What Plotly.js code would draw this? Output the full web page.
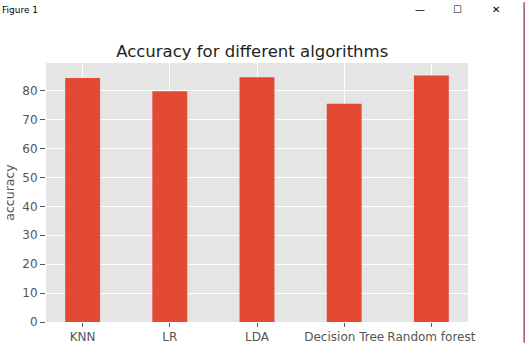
<!DOCTYPE html>
<html>
<head>
<meta charset="utf-8">
<script src="https://cdn.plot.ly/plotly-3.0.1.min.js"></script>
<style>
html,body{margin:0;padding:0;background:#fff;}
#chart{width:531px;height:358px;}
</style>
</head>
<body>
<div id="chart"></div>
<script>
const categories = ["KNN", "LR", "LDA", "Decision Tree", "Random forest"];
const accuracy = [84.4, 79.8, 84.7, 75.5, 85.3];
const yTicks = [0, 10, 20, 30, 40, 50, 60, 70, 80];

const xIdx = categories.map((c, i) => i);

const trace = {
  type: "bar",
  x: xIdx,
  y: accuracy,
  width: 0.4,
  marker: {color: "#e24a33", line: {width: 0}},
  hoverinfo: "x+y"
};

const font = "DejaVu Sans, sans-serif";

const layout = {
  width: 531,
  height: 358,
  paper_bgcolor: "#ffffff",
  plot_bgcolor: "#e5e5e5",
  margin: {l: 46, r: 63, t: 63, b: 36},
  showlegend: false,
  title: {
    text: "Accuracy for different algorithms",
    font: {family: font, size: 16.5, color: "#222"},
    x: 0.475, xanchor: "center",
    y: 0.858, yanchor: "middle"
  },
  xaxis: {
    range: [-0.42, 4.42],
    tickmode: "array",
    tickvals: xIdx,
    ticktext: categories,
    showgrid: true,
    gridcolor: "#ffffff",
    gridwidth: 1,
    zeroline: false,
    ticks: "outside",
    ticklen: 4,
    tickcolor: "#555555",
    tickfont: {family: font, size: 12, color: "#555555"},
    showline: false,
    fixedrange: true
  },
  yaxis: {
    range: [0, 89.6],
    tickmode: "array",
    tickvals: yTicks,
    showgrid: true,
    gridcolor: "#ffffff",
    gridwidth: 1,
    zeroline: false,
    ticks: "outside",
    ticklen: 5,
    tickcolor: "#555555",
    tickfont: {family: font, size: 12, color: "#555555"},
    title: {text: "accuracy", font: {family: font, size: 12.5, color: "#555555"}, standoff: 4},
    showline: false,
    fixedrange: true
  },
  annotations: [
    {text: "Figure 1", xref: "paper", yref: "paper", x: -0.109, y: 1.205, xanchor: "left", yanchor: "middle",
     showarrow: false, font: {family: font, size: 9, color: "#000"}},
    {text: "\u2014", xref: "paper", yref: "paper", x: 0.886, y: 1.205, xanchor: "center", yanchor: "middle",
     showarrow: false, font: {family: font, size: 10, color: "#000"}},
    {text: "\u2610", xref: "paper", yref: "paper", x: 0.974, y: 1.205, xanchor: "center", yanchor: "middle",
     showarrow: false, font: {family: font, size: 10, color: "#000"}},
    {text: "\u2715", xref: "paper", yref: "paper", x: 1.066, y: 1.205, xanchor: "center", yanchor: "middle",
     showarrow: false, font: {family: font, size: 10, color: "#000"}}
  ],
  shapes: [
    {type: "line", xref: "paper", yref: "paper", x0: 1.133, x1: 1.133, y0: -0.08, y1: 1.235,
     line: {color: "#a85068", width: 1.5}}
  ]
};

Plotly.newPlot("chart", [trace], layout, {displayModeBar: false, staticPlot: true});
</script>
</body>
</html>
